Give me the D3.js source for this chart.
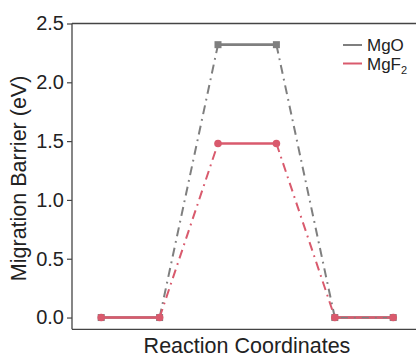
<!DOCTYPE html>
<html>
<head>
<meta charset="utf-8">
<script src="https://cdn.jsdelivr.net/npm/d3@7"></script>
<style>
  html, body { margin: 0; padding: 0; background: #fff; }
  svg { display: block; }
  text { font-family: "Liberation Sans", Arial, Helvetica, sans-serif; fill: #222; }
</style>
</head>
<body>
<svg id="chart" width="416" height="358"></svg>
<script>
// Reaction path: six states along the coordinate, barrier plateau in the middle
const steps = [0, 1, 2, 3, 4, 5];
const mgoEnergy = [0, 0, 2.32, 2.32, 0, 0];
const mgf2Energy = [0, 0, 1.48, 1.48, 0, 0];
const yTicks = [0.0, 0.5, 1.0, 1.5, 2.0, 2.5];
// segment kinds between consecutive states
const segmentKinds = ["solid", "dashdot", "solid", "dashdot", "solid"];

const series = [
  { name: "MgO", sub: null, values: mgoEnergy, color: "#7f7f7f", marker: "square" },
  { name: "MgF", sub: "2", values: mgf2Energy, color: "#d95a6d", marker: "circle" }
];

const svg = d3.select("#chart");
const margin = { left: 72, top: 23.5, right: -6.4, bottom: 28.7 };
const W = 416, H = 358;

const x = d3.scaleLinear().domain([-0.5, 5.5]).range([margin.left, W - margin.right]);
const y = d3.scaleLinear().domain([-0.1, 2.5]).range([H - margin.bottom, margin.top]);

// frame: left, top, bottom
const frame = svg.append("g").attr("stroke", "#444").attr("stroke-width", 1.3).attr("fill", "none");
frame.append("line").attr("x1", x(-0.5)).attr("x2", x(-0.5)).attr("y1", y(2.5)).attr("y2", y(-0.1));
frame.append("line").attr("x1", x(-0.5)).attr("x2", x(5.5)).attr("y1", y(2.5)).attr("y2", y(2.5));
frame.append("line").attr("x1", x(-0.5)).attr("x2", x(5.5)).attr("y1", y(-0.1)).attr("y2", y(-0.1));

// y axis
const yAxis = svg.append("g")
  .attr("transform", `translate(${x(-0.5)},0)`)
  .call(d3.axisLeft(y).tickValues(yTicks).tickFormat(d3.format(".1f")).tickSize(5).tickPadding(3));
yAxis.select(".domain").remove();
yAxis.selectAll(".tick line").attr("stroke", "#444").attr("stroke-width", 1.2);
yAxis.selectAll(".tick text").attr("font-size", 20).attr("fill", "#222")
  .style("font-family", '"Liberation Sans", Arial, sans-serif');

// axis titles
svg.append("text")
  .attr("transform", `translate(26,${(y(2.5) + y(-0.1)) / 2 + 2}) rotate(-90)`)
  .attr("text-anchor", "middle")
  .attr("font-size", 21.5)
  .text("Migration Barrier (eV)");

svg.append("text")
  .attr("x", 247).attr("y", 353)
  .attr("text-anchor", "middle")
  .attr("font-size", 21.5)
  .text("Reaction Coordinates");

const plot = svg.append("g");

function segs(s) {
  return d3.range(steps.length - 1).map(i => ({
    x1: x(steps[i]), y1: y(s.values[i]),
    x2: x(steps[i + 1]), y2: y(s.values[i + 1]),
    kind: segmentKinds[i], idx: i
  }));
}

function drawSeries(s) {
  const g = plot.append("g");
  g.selectAll("line").data(segs(s)).join("line")
    .attr("x1", d => d.x1).attr("y1", d => d.y1)
    .attr("x2", d => d.x2).attr("y2", d => d.y2)
    .attr("stroke", s.color)
    .attr("stroke-width", d => d.kind === "solid" ? 2.6 : 2)
    .attr("stroke-dasharray", d => d.kind === "solid" ? null : "9,5,1.8,5");
  if (s.marker === "square") {
    g.selectAll("rect").data(steps).join("rect")
      .attr("x", (d, i) => x(d) - 3.5).attr("y", (d, i) => y(s.values[i]) - 3.5)
      .attr("width", 7).attr("height", 7).attr("fill", s.color);
  } else {
    g.selectAll("circle").data(steps).join("circle")
      .attr("cx", d => x(d)).attr("cy", (d, i) => y(s.values[i]))
      .attr("r", 3.8).attr("fill", s.color);
  }
}

drawSeries(series[0]);
drawSeries(series[1]);

// trailing dash-dot of MgO stays visible along the final flat stretch
plot.append("line")
  .attr("x1", x(steps[4]) + 6).attr("y1", y(mgoEnergy[4]))
  .attr("x2", x(steps[5]) - 6).attr("y2", y(mgoEnergy[5]))
  .attr("stroke", series[0].color).attr("stroke-width", 1.2)
  .attr("stroke-dasharray", "7,6,2,6");

// legend
const legend = svg.append("g");
series.forEach((s, i) => {
  const ly = 45 + i * 18.5;
  legend.append("line")
    .attr("x1", 343).attr("x2", 362).attr("y1", ly).attr("y2", ly)
    .attr("stroke", s.color).attr("stroke-width", 2);
  const t = legend.append("text")
    .attr("x", 367).attr("y", ly + 6)
    .attr("font-size", 17)
    .text(s.name);
  if (s.sub) {
    t.append("tspan").attr("font-size", 11).attr("dy", 4).text(s.sub);
  }
});
</script>
</body>
</html>
